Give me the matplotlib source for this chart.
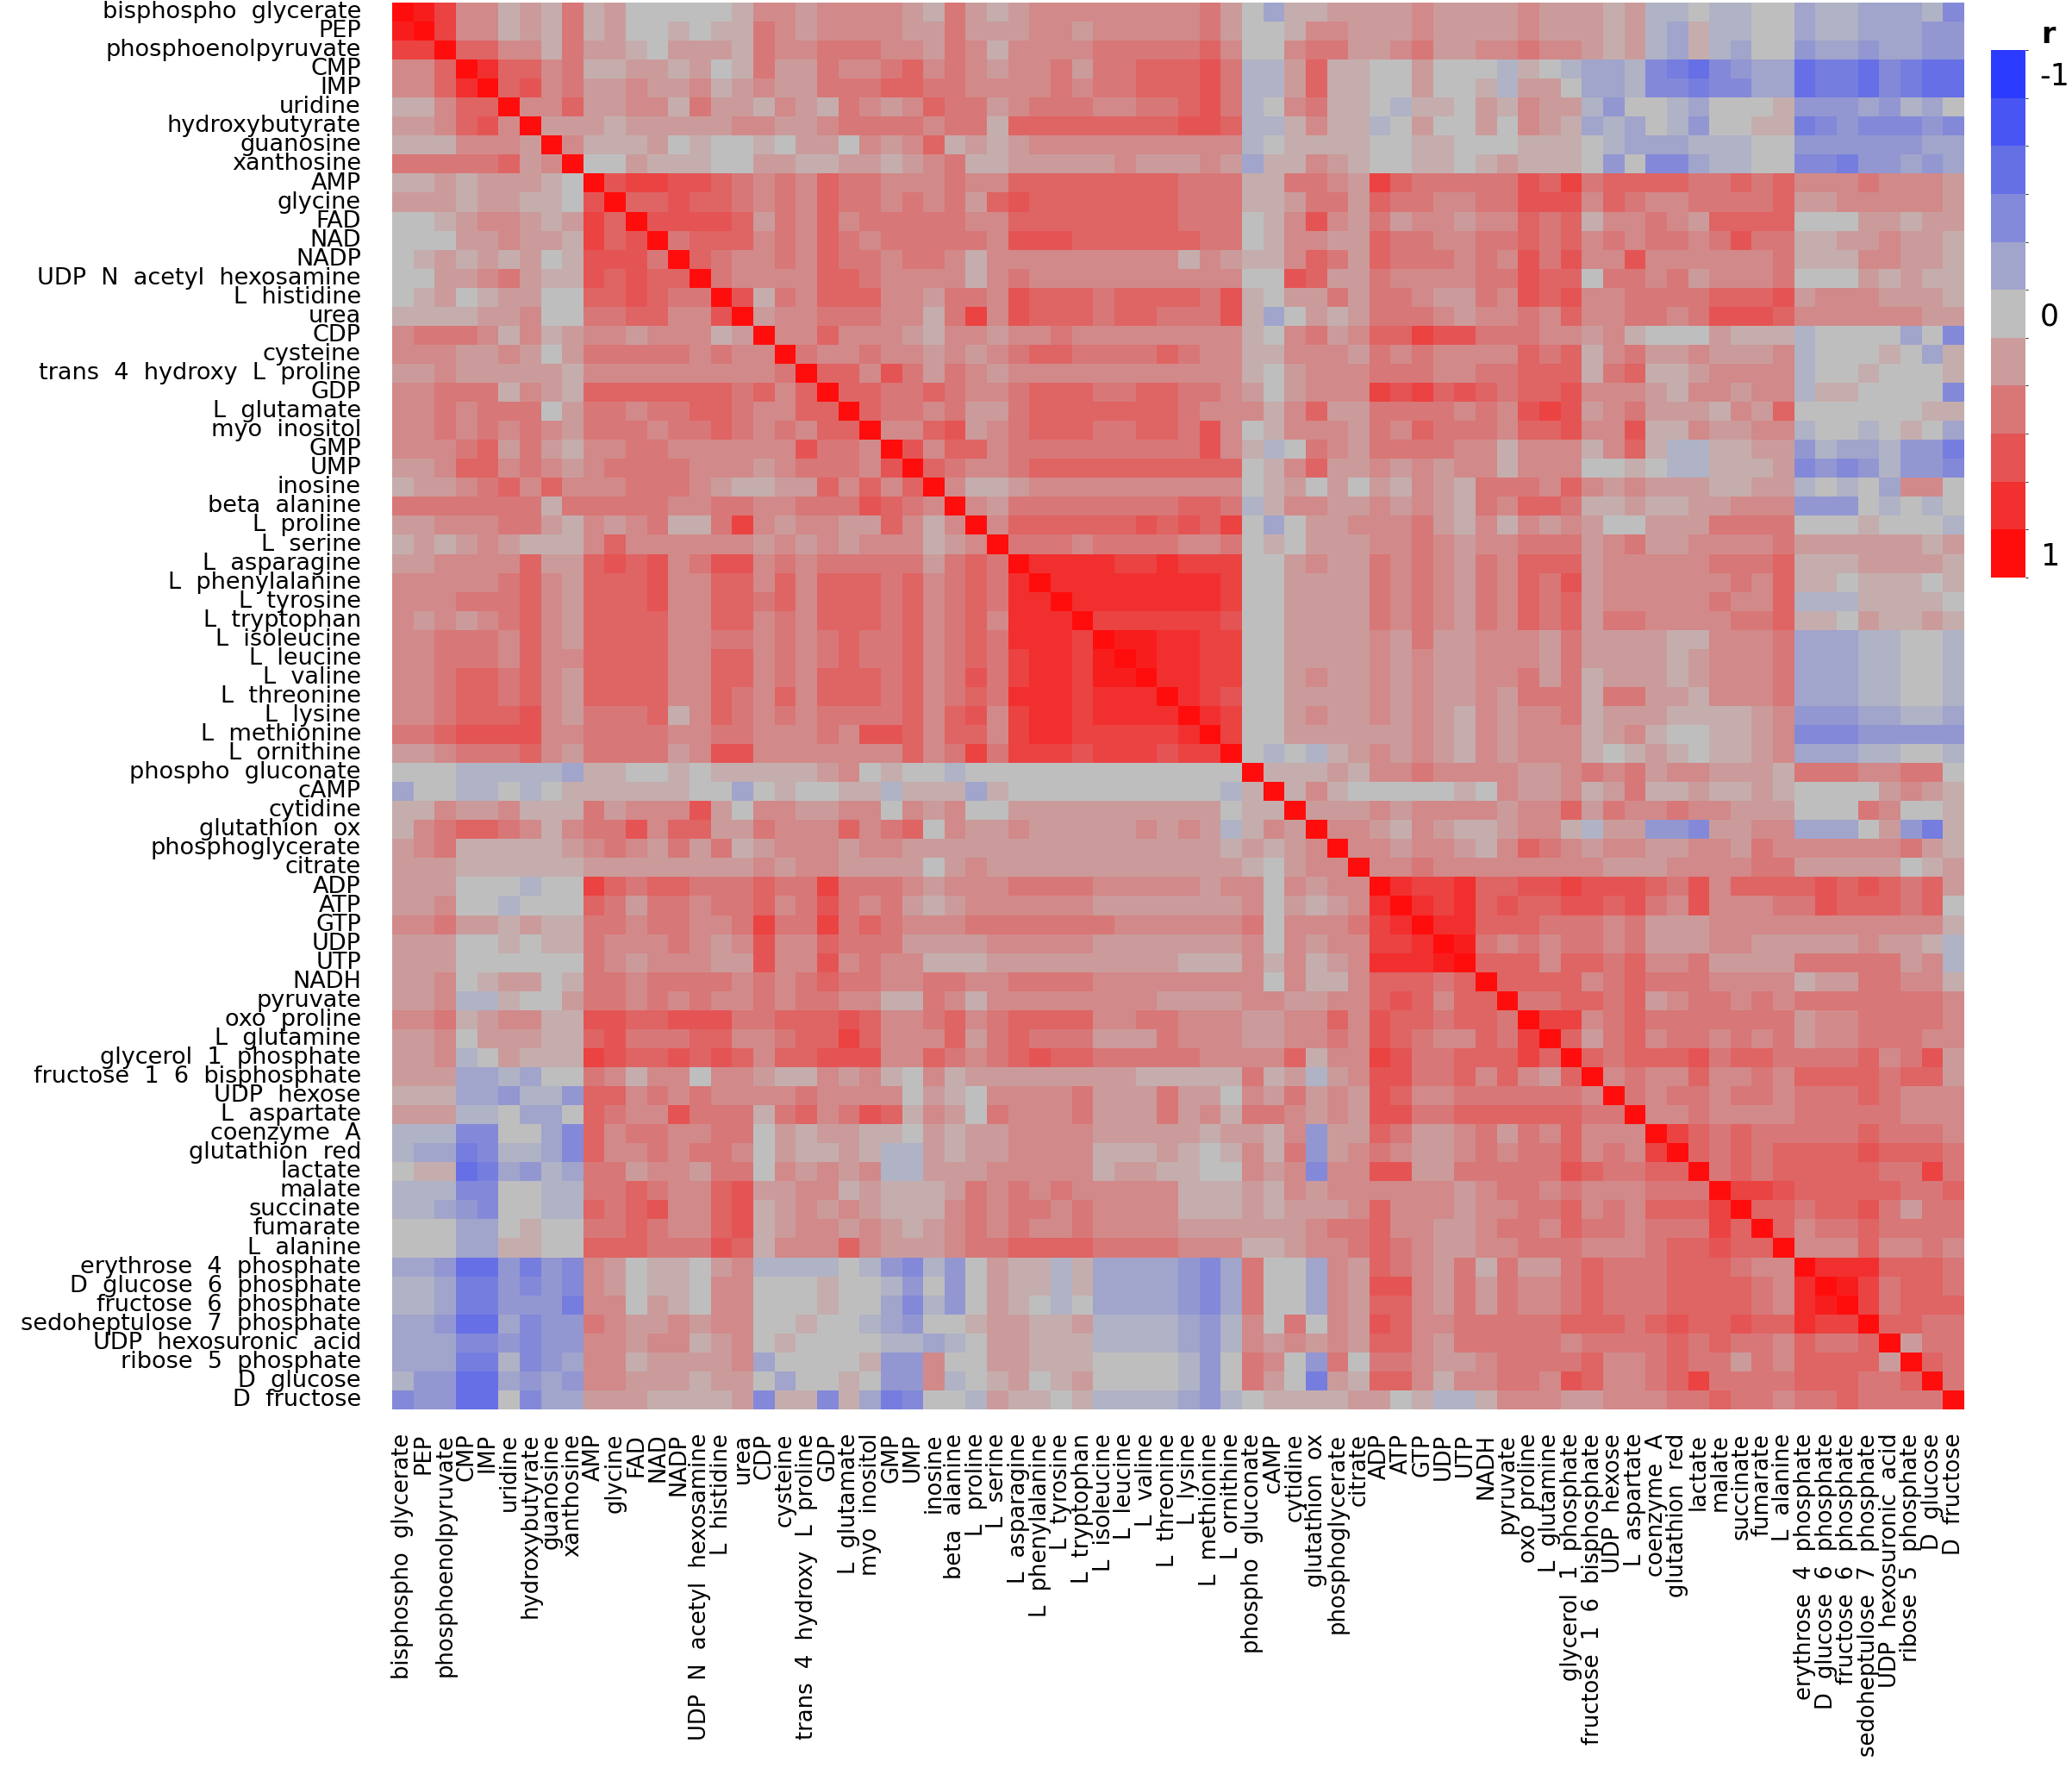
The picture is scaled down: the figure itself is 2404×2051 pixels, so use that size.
import matplotlib.pyplot as plt
import numpy as np
from matplotlib.colors import LinearSegmentedColormap, ListedColormap, BoundaryNorm
from matplotlib.cm import ScalarMappable


# -----------------------------
# Data
# -----------------------------

metabolites = [
    "bisphospho  glycerate", "PEP", "phosphoenolpyruvate", "CMP", "IMP",
    "uridine", "hydroxybutyrate", "guanosine", "xanthosine", "AMP",
    "glycine", "FAD", "NAD", "NADP", "UDP  N  acetyl  hexosamine",
    "L  histidine", "urea", "CDP", "cysteine", "trans  4  hydroxy  L  proline",
    "GDP", "L  glutamate", "myo  inositol", "GMP", "UMP",
    "inosine", "beta  alanine", "L  proline", "L  serine", "L  asparagine",
    "L  phenylalanine", "L  tyrosine", "L  tryptophan", "L  isoleucine", "L  leucine",
    "L  valine", "L  threonine", "L  lysine", "L  methionine", "L  ornithine",
    "phospho  gluconate", "cAMP", "cytidine", "glutathion  ox", "phosphoglycerate",
    "citrate", "ADP", "ATP", "GTP", "UDP",
    "UTP", "NADH", "pyruvate", "oxo  proline", "L  glutamine",
    "glycerol  1  phosphate", "fructose  1  6  bisphosphate", "UDP  hexose", "L  aspartate", "coenzyme  A",
    "glutathion  red", "lactate", "malate", "succinate", "fumarate",
    "L  alanine", "erythrose  4  phosphate", "D  glucose  6  phosphate", "fructose  6  phosphate",
    "sedoheptulose  7  phosphate",
    "UDP  hexosuronic  acid", "ribose  5  phosphate", "D  glucose", "D  fructose",
]

# lower triangle of the correlation matrix, one string per row (columns 0..i-1)
# digit d -> r = d/10 ; letter a..g -> r = -0.1 .. -0.7
corr_lower = [
    "",
    "9",
    "77",
    "335",
    "3358",
    "11355",
    "223563",
    "1113332",
    "44444523",
    "112122210",
    "2221221106",
    "00123321275",
    "000223221756",
    "0121212016664",
    "00223421165655",
    "012012200556544",
    "1111223004455336",
    "34443131233233312",
    "333223202444443433",
    "2232222213333333334",
    "33444132155555554535",
    "334344402443445543355",
    "3343434324443445434355",
    "33345242133443333336443",
    "223553432344443332344436",
    "1223453533344432112253535",
    "444444414" "4444334433444654" "3",
    "223334421" "3234114732332253" "13",
    "121232111" "3533333323232333" "123",
    "223333522" "5656346634344444" "2454",
    "333334532" "5556335535355545" "34548",
    "333444532" "5556335545355545" "345488",
    "323234532" "5555335534355545" "3453888",
    "334443532" "5555334434345445" "34548887",
    "334443533" "5555335534345445" "345478879",
    "334554532" "5555335534355545" "3464788799",
    "334554532" "5555335435355545" "34548887888",
    "334555632" "4445135434344445" "356378878888",
    "445666633" "4444334433343665" "3553788777778",
    "223444532" "4444236633333335" "34747776777677",
    "000aaaaab" "1100101111123010" "0a0000000000000",
    "b00aa0a01" "1111100b010011a1" "11b10000000000a1",
    "113223111" "4233362033223303" "23002222222222011",
    "134554313" "4463552243335345" "03223222223232a132",
    "234111112" "3432424123332332" "2222222222222212123",
    "222111111" "2222222232332222" "02322222222222210233",
    "222000a00" "7545544454474443" "233344443333323303233",
    "22300a000" "5424434453464342" "1233333322222223021238",
    "334221211" "4434433474474543" "33444444433333340333478",
    "222001011" "4333432363354442" "222333332222222303233778",
    "222000000" "4323332263363433" "1112222222221113131238889",
    "223012201" "4434444343454433" "4433444433333333031135554" "5",
    "223aa1002" "4434343343443311" "4313333333322223322335653" "55",
    "334123311" "6655666445556533" "4534555533443332233536554" "554",
    "223022211" "5644455334557533" "3524544422243332233436543" "3547",
    "223a02111" "7655656535566633" "5434565544444333351337644" "55575",
    "222bbab00" "4313303321132310" "312222222211111412a236644" "535325",
    "111bbcaac" "5534343333433330" "2103333422242203242326533" "4444443",
    "222aa0bb0" "5433644414534651" "3204333422242314432326644" "55555544",
    "aaadd00bd" "5344334402122110" "212233332222212213c225422" "342435333",
    "abbedaabd" "53343443021121aa" "212233331112101314c234322" "3434453437",
    "011febcab" "44233244032323aa" "222333331221100323d336622" "44444654455",
    "aaadd00aa" "4454335622331211" "1243434333331112132333333" "234434333444",
    "aabcd00aa" "5456335612323211" "1343443433331112122235333" "2334453435557",
    "000bb0100" "4454335612332321" "2343433433332222223445332" "23443544344475",
    "000bb1100" "5554446513335322" "2344555544443331123345432" "233444333455655",
    "bbcffcecd" "32011023aaaa0acd" "ac0211a1bbbbcdb400b325432" "4142245444555433",
    "aabeecdcd" "32011033000100ac" "0c0211a1bbbbcdb400b326632" "42433454445555438",
    "aabeeccce" "33021033000100bd" "ac0210a0bbbbcdb400b325532" "424334544455554389",
    "bbcffbdcc" "4322323300100abc" "00122112aaaabca3040326533" "4444455545655655877",
    "bbbddcdcc" "33233123010000aa" "ba022111aaaabca3232325532" "44444344445454435445",
    "bbbeeadcb" "33122223b00001cc" "300221110000ac0430c404432" "234444533454424355552",
    "accffbcbc" "332221220b0010cc" "3a0120120000ac0420e215531" "3344365334574444555445",
    "dccff0dbb" "22211112d11d1bed" "00a21101aaaabca011112201a" "a1333223334454434454444",
]

cbar_ticks = [-1, 0, 1]
cbar_ticklabels = ["-1", "0", "1"]


# -----------------------------
# Build matrix
# -----------------------------

def decode(ch):
    if ch.isdigit():
        return int(ch) / 10.0
    return -(ord(ch) - ord("a") + 1) / 10.0


n = len(metabolites)
corr = np.eye(n)
for i, row in enumerate(corr_lower):
    row = row[:i].ljust(i, "0")
    for j, ch in enumerate(row):
        corr[i, j] = decode(ch)
        corr[j, i] = corr[i, j]


# -----------------------------
# Plot
# -----------------------------

cmap = LinearSegmentedColormap.from_list(
    "bgr", [(0.0, "#2b3bff"), (0.5, "#bfbfbf"), (1.0, "#ff0d0d")]
)

fig = plt.figure(figsize=(24.04, 20.51), dpi=100)
ax = fig.add_axes([455 / 2404, 1 - 1635 / 2051, 1824 / 2404, 1632 / 2051])

ax.imshow(corr, cmap=cmap, vmin=-1, vmax=1, aspect="auto", interpolation="nearest")

ax.set_xticks(np.arange(n))
ax.set_yticks(np.arange(n))
ax.set_xticklabels(metabolites, rotation=90, fontsize=18.5, va="top", ha="center")
ax.set_yticklabels(metabolites, fontsize=19.5, ha="right", va="center")
ax.tick_params(axis="both", length=0)
ax.tick_params(axis="x", pad=20)
ax.tick_params(axis="y", pad=26)
for s in ax.spines.values():
    s.set_visible(False)

# discrete colour key
levels = np.linspace(-1, 1, 11)
key_cmap = ListedColormap([cmap((v + 1) / 2) for v in levels])
key_norm = BoundaryNorm(np.linspace(-1.1, 1.1, 12), key_cmap.N)
cax = fig.add_axes([2310 / 2404, 1 - 670 / 2051, 40 / 2404, 612 / 2051])
cb = fig.colorbar(ScalarMappable(norm=key_norm, cmap=key_cmap), cax=cax, ticks=cbar_ticks)
cb.outline.set_visible(False)
cb.set_ticklabels(cbar_ticklabels)
cax.invert_yaxis()
cax.tick_params(length=0, pad=12, labelsize=25)
fig.text(2368 / 2404, 1 - 40 / 2051, "r", fontsize=24, fontweight="bold", ha="left", va="center")

fig.savefig("out.png", dpi=100)
